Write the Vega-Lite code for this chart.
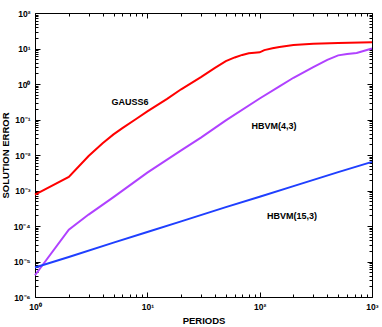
{
  "$schema": "https://vega.github.io/schema/vega-lite/v6.json",
  "width": 337,
  "height": 284,
  "autosize": {"type": "none"},
  "padding": {"left": 35, "top": 13, "right": 10, "bottom": 30},
  "background": "white",
  "config": {
    "view": {"stroke": null},
    "font": "Liberation Sans",
    "axis": {
      "grid": false,
      "domainColor": "black",
      "tickColor": "black",
      "labelColor": "black",
      "titleColor": "black",
      "labelFont": "Liberation Sans",
      "titleFont": "Liberation Sans",
      "labelFontSize": 8.5,
      "labelFontWeight": "bold",
      "titleFontSize": 9.5,
      "titleFontWeight": "bold",
      "labelOverlap": false,
      "labelFlush": false,
      "domainWidth": 1,
      "tickWidth": 1
    }
  },
  "data": {
    "values": [
      {"series": "GAUSS6", "period": 1, "error": 0.00077},
      {"series": "GAUSS6", "period": 2, "error": 0.0024},
      {"series": "GAUSS6", "period": 3, "error": 0.0094},
      {"series": "GAUSS6", "period": 4, "error": 0.0215},
      {"series": "GAUSS6", "period": 5, "error": 0.038},
      {"series": "GAUSS6", "period": 6, "error": 0.057},
      {"series": "GAUSS6", "period": 8, "error": 0.105},
      {"series": "GAUSS6", "period": 10, "error": 0.17},
      {"series": "GAUSS6", "period": 15, "error": 0.38},
      {"series": "GAUSS6", "period": 20, "error": 0.71},
      {"series": "GAUSS6", "period": 30, "error": 1.57},
      {"series": "GAUSS6", "period": 40, "error": 2.84},
      {"series": "GAUSS6", "period": 50, "error": 4.4},
      {"series": "GAUSS6", "period": 60, "error": 5.6},
      {"series": "GAUSS6", "period": 70, "error": 6.6},
      {"series": "GAUSS6", "period": 80, "error": 7.3},
      {"series": "GAUSS6", "period": 90, "error": 7.55},
      {"series": "GAUSS6", "period": 100, "error": 7.8},
      {"series": "GAUSS6", "period": 110, "error": 9.0},
      {"series": "GAUSS6", "period": 130, "error": 10.2},
      {"series": "GAUSS6", "period": 150, "error": 11.0},
      {"series": "GAUSS6", "period": 200, "error": 12.5},
      {"series": "GAUSS6", "period": 300, "error": 13.5},
      {"series": "GAUSS6", "period": 500, "error": 14.3},
      {"series": "GAUSS6", "period": 1000, "error": 14.9},
      {"series": "HBVM(4,3)", "period": 1, "error": 0.0000041},
      {"series": "HBVM(4,3)", "period": 2, "error": 0.000079},
      {"series": "HBVM(4,3)", "period": 3, "error": 0.00021},
      {"series": "HBVM(4,3)", "period": 5, "error": 0.00065},
      {"series": "HBVM(4,3)", "period": 10, "error": 0.0032},
      {"series": "HBVM(4,3)", "period": 20, "error": 0.0135},
      {"series": "HBVM(4,3)", "period": 30, "error": 0.031},
      {"series": "HBVM(4,3)", "period": 50, "error": 0.094},
      {"series": "HBVM(4,3)", "period": 100, "error": 0.39},
      {"series": "HBVM(4,3)", "period": 150, "error": 0.86},
      {"series": "HBVM(4,3)", "period": 200, "error": 1.5},
      {"series": "HBVM(4,3)", "period": 300, "error": 3.0},
      {"series": "HBVM(4,3)", "period": 400, "error": 4.8},
      {"series": "HBVM(4,3)", "period": 500, "error": 6.4},
      {"series": "HBVM(4,3)", "period": 600, "error": 7.0},
      {"series": "HBVM(4,3)", "period": 730, "error": 7.46},
      {"series": "HBVM(4,3)", "period": 1000, "error": 10.0},
      {"series": "HBVM(15,3)", "period": 1, "error": 0.0000068},
      {"series": "HBVM(15,3)", "period": 2, "error": 0.0000134},
      {"series": "HBVM(15,3)", "period": 5, "error": 0.000034},
      {"series": "HBVM(15,3)", "period": 10, "error": 0.000068},
      {"series": "HBVM(15,3)", "period": 20, "error": 0.000135},
      {"series": "HBVM(15,3)", "period": 50, "error": 0.00034},
      {"series": "HBVM(15,3)", "period": 100, "error": 0.00067},
      {"series": "HBVM(15,3)", "period": 200, "error": 0.00133},
      {"series": "HBVM(15,3)", "period": 500, "error": 0.0033},
      {"series": "HBVM(15,3)", "period": 1000, "error": 0.0064}
    ]
  },
  "resolve": {"axis": {"x": "independent", "y": "independent"}},
  "layer": [
    {
      "mark": {"type": "line", "strokeWidth": 2},
      "encoding": {
        "x": {
          "field": "period",
          "type": "quantitative",
          "scale": {"type": "log", "domain": [1, 1000], "nice": false},
          "axis": {
            "orient": "bottom",
            "title": "PERIODS",
            "titlePadding": 3,
            "values": [1,2,3,4,5,6,7,8,9,10,20,30,40,50,60,70,80,90,100,200,300,400,500,600,700,800,900,1000],
            "tickSize": {"condition": {"test": "abs(log(datum.value)/LN10 - round(log(datum.value)/LN10)) < 0.000001", "value": -5}, "value": -3},
            "labelPadding": 10,
            "labelExpr": "abs(log(datum.value)/LN10 - round(log(datum.value)/LN10)) < 0.000001 ? '10' + ['⁻⁶','⁻⁵','⁻⁴','⁻³','⁻²','⁻¹','⁰','¹','²','³'][round(log(datum.value)/LN10)+6] : ''"
          }
        },
        "y": {
          "field": "error",
          "type": "quantitative",
          "scale": {"type": "log", "domain": [0.000001, 100], "nice": false},
          "axis": {
            "orient": "left",
            "title": "SOLUTION ERROR",
            "titlePadding": 3,
            "values": [0.000001,0.000002,0.000003,0.000004,0.000005,0.000006,0.000007,0.000008,0.000009,0.00001,0.00002,0.00003,0.00004,0.00005,0.00006,0.00007,0.00008,0.00009,0.0001,0.0002,0.0003,0.0004,0.0005,0.0006,0.0007,0.0008,0.0009,0.001,0.002,0.003,0.004,0.005,0.006,0.007,0.008,0.009,0.01,0.02,0.03,0.04,0.05,0.06,0.07,0.08,0.09,0.1,0.2,0.3,0.4,0.5,0.6,0.7,0.8,0.9,1,2,3,4,5,6,7,8,9,10,20,30,40,50,60,70,80,90,100],
            "tickSize": {"condition": {"test": "abs(log(datum.value)/LN10 - round(log(datum.value)/LN10)) < 0.000001", "value": -5}, "value": -3},
            "labelPadding": 10,
            "labelExpr": "abs(log(datum.value)/LN10 - round(log(datum.value)/LN10)) < 0.000001 ? '10' + ['⁻⁶','⁻⁵','⁻⁴','⁻³','⁻²','⁻¹','⁰','¹','²','³'][round(log(datum.value)/LN10)+6] : ''"
          }
        },
        "color": {
          "field": "series",
          "type": "nominal",
          "scale": {"domain": ["GAUSS6", "HBVM(4,3)", "HBVM(15,3)"], "range": ["#ff0000", "#b041ff", "#1f3fff"]},
          "legend": null
        },
        "detail": {"field": "series"}
      }
    },
    {
      "data": {
        "values": [
          {"label": "GAUSS6", "period": 7, "error": 0.31},
          {"label": "HBVM(4,3)", "period": 134, "error": 0.064},
          {"label": "HBVM(15,3)", "period": 194, "error": 0.00019}
        ]
      },
      "mark": {"type": "text", "font": "Liberation Sans", "fontSize": 9, "fontWeight": "bold", "color": "black", "align": "center", "baseline": "middle"},
      "encoding": {
        "x": {
          "field": "period",
          "type": "quantitative",
          "scale": {"type": "log", "domain": [1, 1000], "nice": false},
          "axis": {
            "orient": "top",
            "title": null,
            "labels": false,
            "values": [1,2,3,4,5,6,7,8,9,10,20,30,40,50,60,70,80,90,100,200,300,400,500,600,700,800,900,1000],
            "tickSize": {"condition": {"test": "abs(log(datum.value)/LN10 - round(log(datum.value)/LN10)) < 0.000001", "value": -5}, "value": -3}
          }
        },
        "y": {
          "field": "error",
          "type": "quantitative",
          "scale": {"type": "log", "domain": [0.000001, 100], "nice": false},
          "axis": {
            "orient": "right",
            "title": null,
            "labels": false,
            "values": [0.000001,0.000002,0.000003,0.000004,0.000005,0.000006,0.000007,0.000008,0.000009,0.00001,0.00002,0.00003,0.00004,0.00005,0.00006,0.00007,0.00008,0.00009,0.0001,0.0002,0.0003,0.0004,0.0005,0.0006,0.0007,0.0008,0.0009,0.001,0.002,0.003,0.004,0.005,0.006,0.007,0.008,0.009,0.01,0.02,0.03,0.04,0.05,0.06,0.07,0.08,0.09,0.1,0.2,0.3,0.4,0.5,0.6,0.7,0.8,0.9,1,2,3,4,5,6,7,8,9,10,20,30,40,50,60,70,80,90,100],
            "tickSize": {"condition": {"test": "abs(log(datum.value)/LN10 - round(log(datum.value)/LN10)) < 0.000001", "value": -5}, "value": -3}
          }
        },
        "text": {"field": "label", "type": "nominal"}
      }
    }
  ]
}
